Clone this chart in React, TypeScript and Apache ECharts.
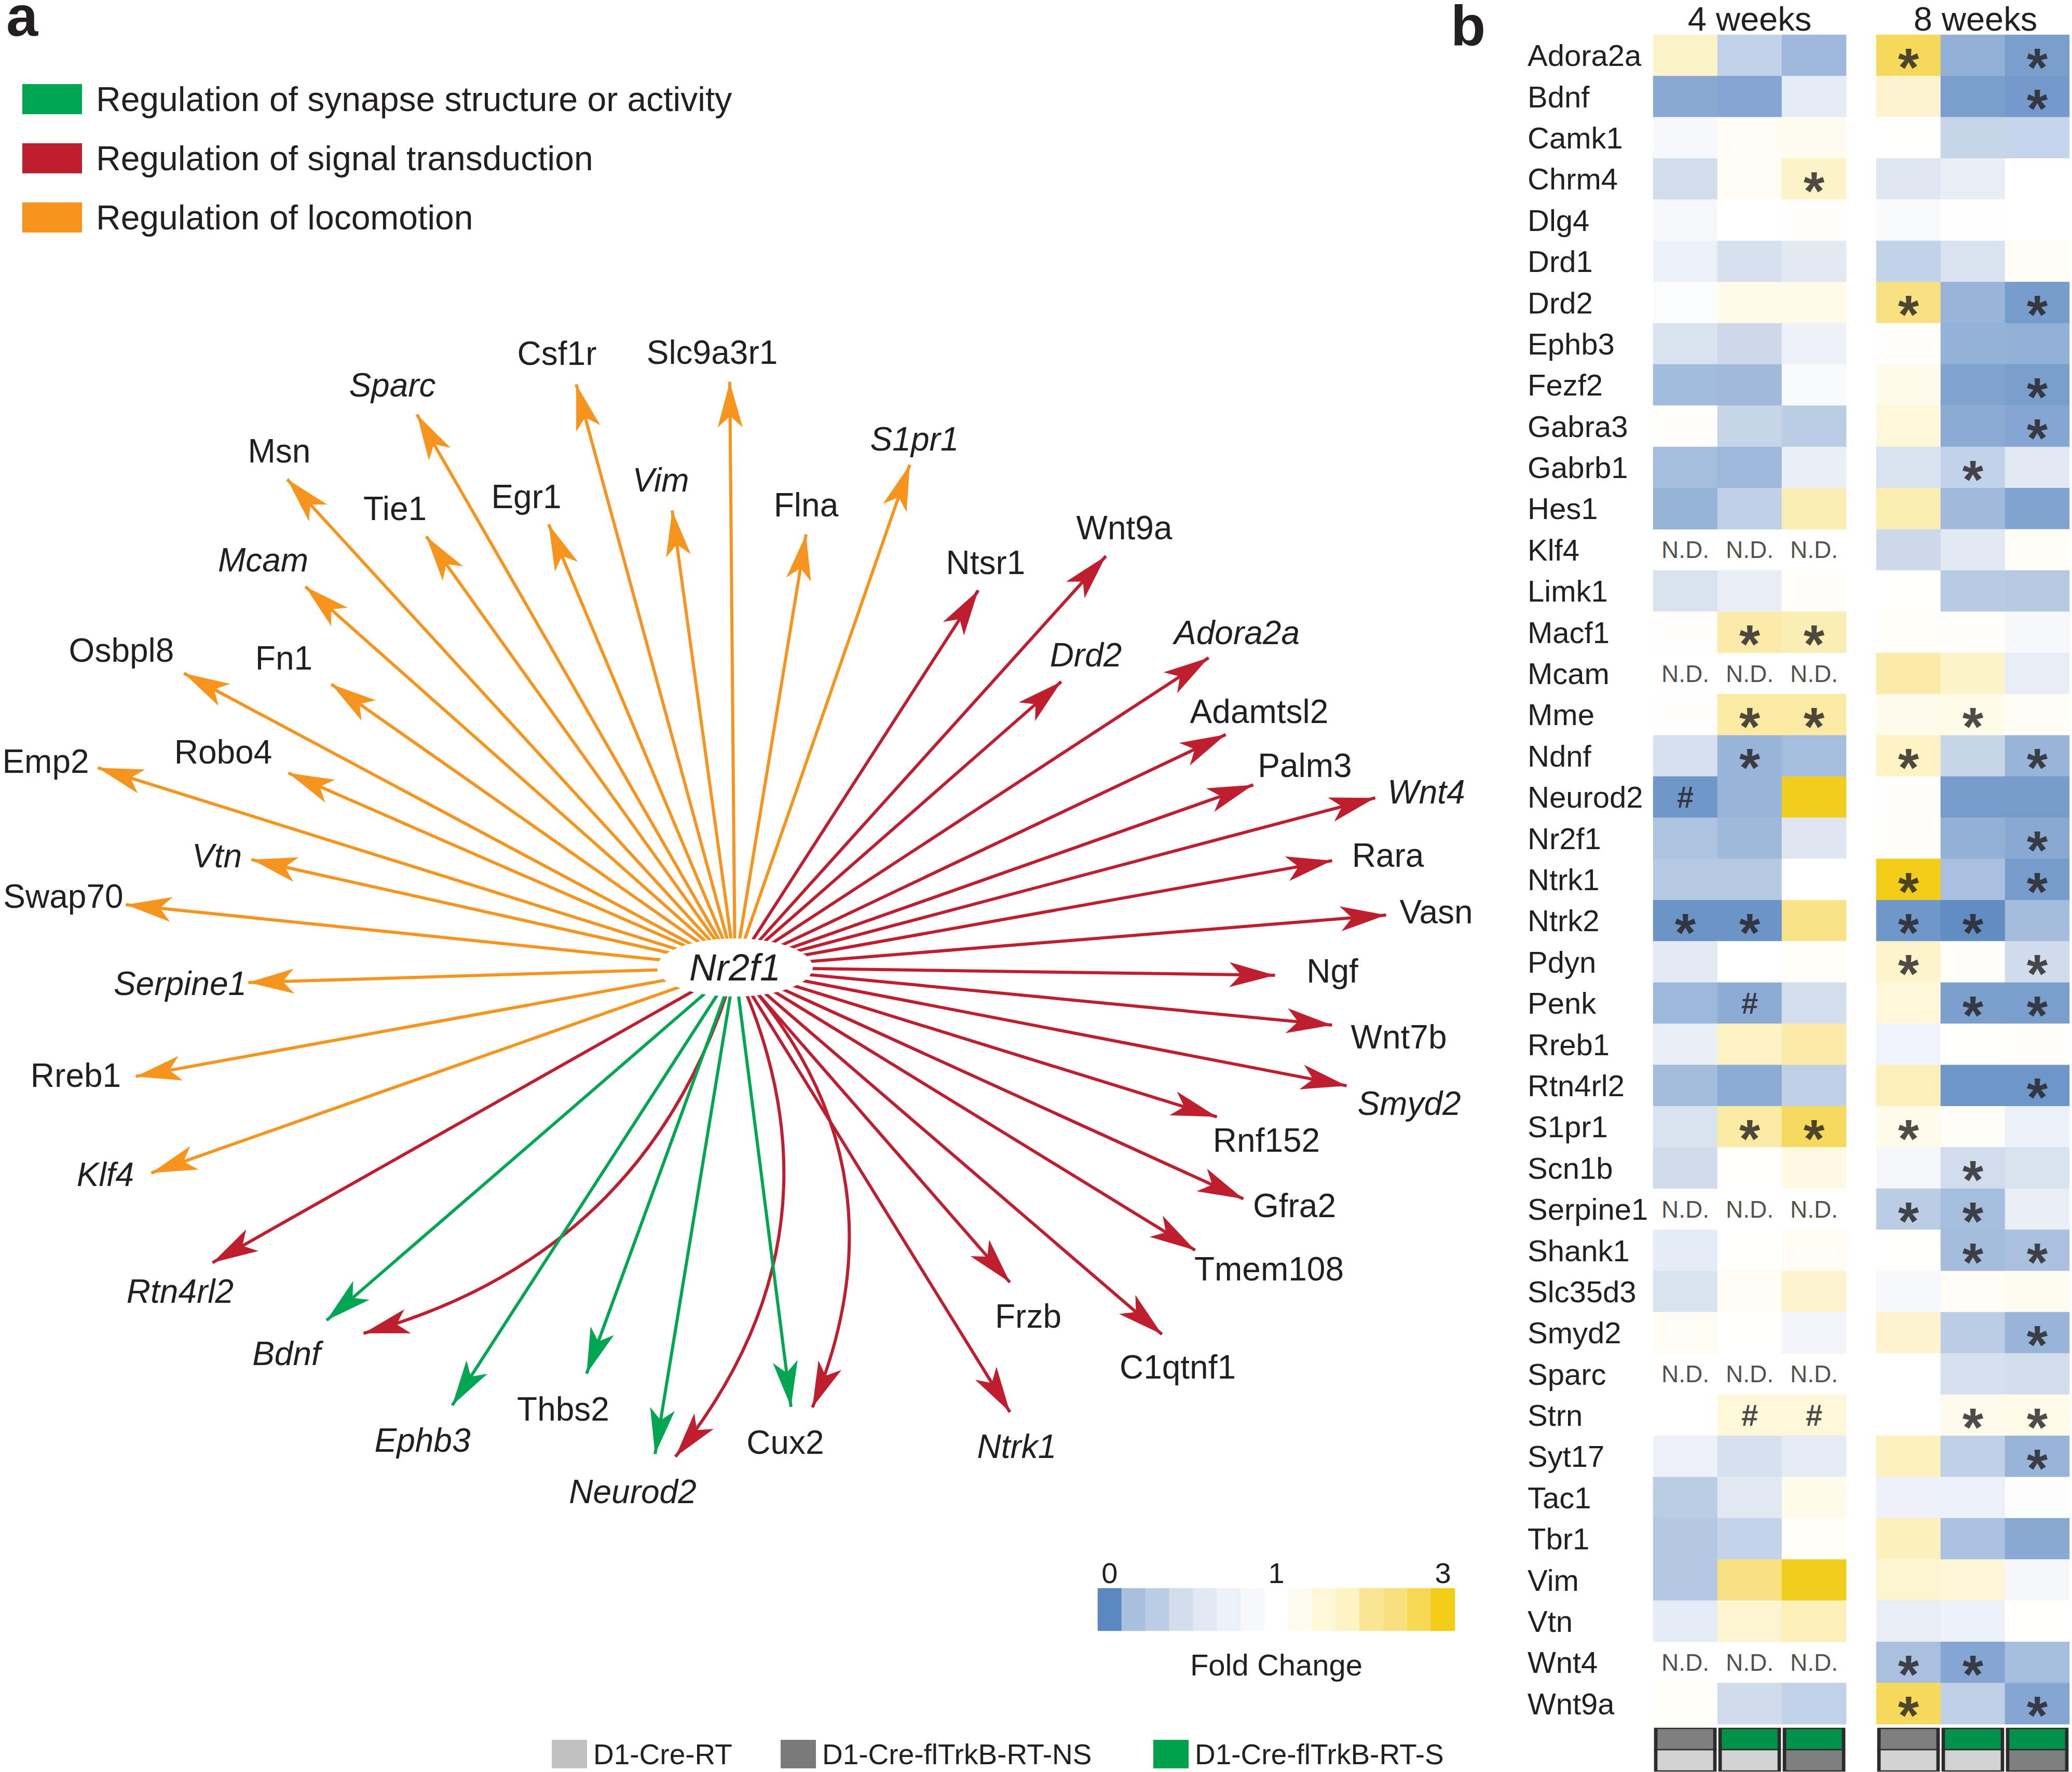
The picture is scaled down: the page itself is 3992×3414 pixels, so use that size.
import React, { useEffect, useRef } from 'react';
import * as echarts from 'echarts';

const W = 3992;
const H = 3414;
const FONT = '"Liberation Sans", Arial, Helvetica, sans-serif';
const INK = '#231F20';

// ---------------- Panel a: Nr2f1 network ----------------
const categories = [
  'Regulation of synapse structure or activity',
  'Regulation of signal transduction',
  'Regulation of locomotion',
];
const categoryColors = ['#00A651', '#BE1E2D', '#F7941D'];
const hubGene = 'Nr2f1';
const hubPosition = [1416, 1864];

// target gene, category index, arrow tip x, arrow tip y, curveness
const targets: [string, number, number, number, number][] = [
  ['Csf1r', 2, 1110, 740, 0],
  ['Slc9a3r1', 2, 1406, 735, 0],
  ['Sparc', 2, 803, 798, 0],
  ['Msn', 2, 553, 923, 0],
  ['Tie1', 2, 821, 1033, 0],
  ['Egr1', 2, 1057, 1010, 0],
  ['Vim', 2, 1295, 983, 0],
  ['Flna', 2, 1553, 1029, 0],
  ['S1pr1', 2, 1753, 895, 0],
  ['Mcam', 2, 588, 1130, 0],
  ['Osbpl8', 2, 354, 1297, 0],
  ['Fn1', 2, 638, 1318, 0],
  ['Emp2', 2, 188, 1479, 0],
  ['Robo4', 2, 555, 1489, 0],
  ['Vtn', 2, 484, 1656, 0],
  ['Swap70', 2, 242, 1743, 0],
  ['Serpine1', 2, 478, 1893, 0],
  ['Rreb1', 2, 261, 2074, 0],
  ['Klf4', 2, 291, 2260, 0],
  ['Ntsr1', 1, 1885, 1137, 0],
  ['Wnt9a', 1, 2131, 1071, 0],
  ['Drd2', 1, 2045, 1313, 0],
  ['Adora2a', 1, 2329, 1267, 0],
  ['Adamtsl2', 1, 2362, 1415, 0],
  ['Palm3', 1, 2415, 1512, 0],
  ['Wnt4', 1, 2650, 1537, 0],
  ['Rara', 1, 2567, 1658, 0],
  ['Vasn', 1, 2671, 1763, 0],
  ['Ngf', 1, 2457, 1879, 0],
  ['Wnt7b', 1, 2567, 1975, 0],
  ['Smyd2', 1, 2595, 2092, 0],
  ['Rnf152', 1, 2345, 2152, 0],
  ['Gfra2', 1, 2396, 2310, 0],
  ['Tmem108', 1, 2303, 2409, 0],
  ['Frzb', 1, 1946, 2471, 0],
  ['C1qtnf1', 1, 2239, 2571, 0],
  ['Ntrk1', 1, 1946, 2721, 0],
  ['Cux2', 1, 1565, 2712, 0.32],
  ['Neurod2', 1, 1301, 2807, 0.31],
  ['Bdnf', 1, 700, 2569, 0.28],
  ['Rtn4rl2', 1, 409, 2433, 0],
  ['Bdnf', 0, 629, 2544, 0],
  ['Ephb3', 0, 871, 2708, 0],
  ['Thbs2', 0, 1130, 2647, 0],
  ['Neurod2', 0, 1262, 2802, 0],
  ['Cux2', 0, 1524, 2711, 0],
];

// gene label centres
const geneLabels: [string, number, number][] = [
  ['Csf1r', 1073, 681], ['Slc9a3r1', 1372, 679], ['Sparc', 756, 742], ['Msn', 538, 869],
  ['Tie1', 761, 980], ['Egr1', 1014, 957], ['Vim', 1273, 925], ['Flna', 1553, 973],
  ['S1pr1', 1762, 846], ['Mcam', 507, 1079], ['Osbpl8', 234, 1253], ['Fn1', 547, 1268],
  ['Emp2', 88, 1467], ['Robo4', 430, 1449], ['Vtn', 418, 1649], ['Swap70', 122, 1727],
  ['Serpine1', 347, 1895], ['Rreb1', 146, 2072], ['Klf4', 203, 2263],
  ['Ntsr1', 1899, 1084], ['Wnt9a', 2166, 1017], ['Drd2', 2092, 1262], ['Adora2a', 2383, 1219],
  ['Adamtsl2', 2426, 1371], ['Palm3', 2514, 1475], ['Wnt4', 2748, 1526], ['Rara', 2674, 1648],
  ['Vasn', 2767, 1757], ['Ngf', 2567, 1871], ['Wnt7b', 2695, 1998], ['Smyd2', 2715, 2126],
  ['Rnf152', 2440, 2197], ['Gfra2', 2494, 2323], ['Tmem108', 2445, 2445], ['Frzb', 1981, 2536],
  ['C1qtnf1', 2269, 2634], ['Ntrk1', 1959, 2787], ['Rtn4rl2', 347, 2488], ['Bdnf', 552, 2608],
  ['Ephb3', 814, 2775], ['Thbs2', 1085, 2715], ['Neurod2', 1219, 2874], ['Cux2', 1513, 2779],
];
const italicGenes = ['Sparc', 'Vim', 'S1pr1', 'Mcam', 'Vtn', 'Serpine1', 'Klf4', 'Drd2', 'Adora2a',
  'Wnt4', 'Smyd2', 'Ntrk1', 'Rtn4rl2', 'Bdnf', 'Ephb3', 'Neurod2'];

// ---------------- Panel b: fold-change heatmap ----------------
const heatGenes = ['Adora2a', 'Bdnf', 'Camk1', 'Chrm4', 'Dlg4', 'Drd1', 'Drd2', 'Ephb3', 'Fezf2',
  'Gabra3', 'Gabrb1', 'Hes1', 'Klf4', 'Limk1', 'Macf1', 'Mcam', 'Mme', 'Ndnf', 'Neurod2', 'Nr2f1',
  'Ntrk1', 'Ntrk2', 'Pdyn', 'Penk', 'Rreb1', 'Rtn4rl2', 'S1pr1', 'Scn1b', 'Serpine1', 'Shank1',
  'Slc35d3', 'Smyd2', 'Sparc', 'Strn', 'Syt17', 'Tac1', 'Tbr1', 'Vim', 'Vtn', 'Wnt4', 'Wnt9a'];

// null = N.D.
const fold4w: (number | null)[][] = [
  [1.5, 0.55, 0.33], [0.22, 0.2, 0.8], [0.93, 1.12, 1.15], [0.65, 1.12, 1.5], [0.93, 1.0, 1.03],
  [0.85, 0.68, 0.77], [0.97, 1.2, 1.22], [0.7, 0.62, 0.86], [0.36, 0.35, 0.95], [1.04, 0.58, 0.5],
  [0.38, 0.33, 0.83], [0.29, 0.53, 1.7], [null, null, null], [0.7, 0.82, 1.05], [1.03, 1.8, 1.7],
  [null, null, null], [1.03, 1.85, 1.85], [0.68, 0.3, 0.38], [0.1, 0.3, 2.95], [0.42, 0.34, 0.74],
  [0.47, 0.47, 1.0], [0.08, 0.08, 2.1], [0.78, 1.0, 1.07], [0.33, 0.24, 0.67], [0.83, 1.55, 1.8],
  [0.37, 0.24, 0.53], [0.7, 1.85, 2.45], [0.64, 1.02, 1.28], [null, null, null], [0.8, 1.02, 1.12],
  [0.7, 1.12, 1.45], [1.12, 1.02, 0.9], [null, null, null], [1.0, 1.35, 1.35], [0.86, 0.68, 0.8],
  [0.5, 0.77, 1.2], [0.46, 0.56, 1.07], [0.46, 2.15, 2.95], [0.8, 1.42, 1.65], [null, null, null],
  [1.07, 0.64, 0.55],
];
const fold8w: (number | null)[][] = [
  [2.5, 0.27, 0.15], [1.45, 0.15, 0.12], [1.02, 0.58, 0.57], [0.75, 0.82, 1.0], [0.95, 0.99, 1.0],
  [0.55, 0.7, 1.1], [2.15, 0.3, 0.13], [1.03, 0.28, 0.27], [1.2, 0.18, 0.15], [1.35, 0.23, 0.2],
  [0.7, 0.55, 0.77], [1.75, 0.35, 0.18], [0.62, 0.77, 1.08], [1.02, 0.48, 0.47], [1.07, 1.05, 0.93],
  [1.8, 1.5, 0.82], [1.18, 1.22, 1.1], [1.55, 0.58, 0.3], [1.03, 0.13, 0.13], [1.04, 0.27, 0.22],
  [3.0, 0.4, 0.13], [0.1, 0.03, 0.37], [1.48, 1.04, 0.64], [1.35, 0.16, 0.15], [0.88, 1.01, 1.05],
  [1.65, 0.09, 0.09], [1.2, 1.08, 0.85], [0.92, 0.65, 0.7], [0.5, 0.38, 0.83], [1.01, 0.37, 0.4],
  [0.93, 1.1, 1.15], [1.45, 0.5, 0.3], [1.0, 0.68, 0.66], [1.0, 1.18, 1.22], [1.6, 0.53, 0.3],
  [0.86, 0.85, 0.98], [1.62, 0.41, 0.22], [1.42, 1.38, 0.92], [0.82, 0.85, 1.02], [0.4, 0.2, 0.38],
  [2.5, 0.53, 0.2],
];

// significance marks: gene, comparison column, mark
const marks4w: [string, number, string][] = [
  ['Chrm4', 2, '*'], ['Macf1', 1, '*'], ['Macf1', 2, '*'], ['Mme', 1, '*'], ['Mme', 2, '*'],
  ['Ndnf', 1, '*'], ['Neurod2', 0, '#'], ['Ntrk2', 0, '*'], ['Ntrk2', 1, '*'], ['Penk', 1, '#'],
  ['S1pr1', 1, '*'], ['S1pr1', 2, '*'], ['Strn', 1, '#'], ['Strn', 2, '#'],
];
const marks8w: [string, number, string][] = [
  ['Adora2a', 0, '*'], ['Adora2a', 2, '*'], ['Bdnf', 2, '*'], ['Drd2', 0, '*'], ['Drd2', 2, '*'],
  ['Fezf2', 2, '*'], ['Gabra3', 2, '*'], ['Gabrb1', 1, '*'], ['Mme', 1, '*'], ['Ndnf', 0, '*'],
  ['Ndnf', 2, '*'], ['Nr2f1', 2, '*'], ['Ntrk1', 0, '*'], ['Ntrk1', 2, '*'], ['Ntrk2', 0, '*'],
  ['Ntrk2', 1, '*'], ['Pdyn', 0, '*'], ['Pdyn', 2, '*'], ['Penk', 1, '*'], ['Penk', 2, '*'],
  ['Rtn4rl2', 2, '*'], ['S1pr1', 0, '*'], ['Scn1b', 1, '*'], ['Serpine1', 0, '*'], ['Serpine1', 1, '*'],
  ['Shank1', 1, '*'], ['Shank1', 2, '*'], ['Smyd2', 2, '*'], ['Strn', 1, '*'], ['Strn', 2, '*'],
  ['Syt17', 2, '*'], ['Wnt4', 0, '*'], ['Wnt4', 1, '*'], ['Wnt9a', 0, '*'], ['Wnt9a', 2, '*'],
];

const comparisonCols = ['c1', 'c2', 'c3'];
// genotype pair of each comparison (top, bottom)
const comparisons: [string, string][] = [['NS', 'RT'], ['S', 'RT'], ['S', 'NS']];
const genotypeFill: Record<string, string> = { RT: '#D3D3D3', NS: '#7F7F7F', S: '#00914A' };
const genotypeLegend: [string, string][] = [
  ['D1-Cre-RT', '#C1C1C1'], ['D1-Cre-flTrkB-RT-NS', '#7A7A7A'], ['D1-Cre-flTrkB-RT-S', '#00A14B'],
];

const scaleStops = ['#5B88C0', '#8FAED6', '#BBCDE5', '#E0E7F2', '#FFFFFF', '#FEFAE6', '#FDF3C9',
  '#FBEDB0', '#F9E593', '#F8DF77', '#F6D95A', '#F4D23A', '#F2CC17'];
const colorbarSteps = [0, 0.39, 0.5, 0.66, 0.76, 0.85, 0.93, 1.0, 1.15, 1.37, 1.56, 2.0, 2.19, 2.55, 3.0];
const colorbarTickLabels = ['0', '', '', '', '', '', '', '1', '', '', '', '', '', '', '3'];

const CLEAR = 'rgba(0,0,0,0)';

function buildOption(): any {
  const tipName = (g: string, c: number) => `${g}@${c}`;
  const nodes: any[] = [
    { name: hubGene, value: hubPosition, symbolSize: 1, itemStyle: { color: CLEAR }, label: { show: false } },
    ...targets.map(([g, c, x, y]) => ({
      name: tipName(g, c), value: [x, y], category: c, symbolSize: 1,
      itemStyle: { color: CLEAR }, label: { show: false },
    })),
    ...geneLabels.map(([g, x, y]) => ({
      name: `label:${g}`, value: [x, y], symbolSize: 1, itemStyle: { color: CLEAR },
      label: {
        show: true, position: 'inside', formatter: g,
        fontStyle: italicGenes.includes(g) ? 'italic' : 'normal',
      },
    })),
  ];
  const links = targets.map(([g, c, , , curv]) => ({
    source: hubGene, target: tipName(g, c),
    lineStyle: { color: categoryColors[c], curveness: curv },
  }));

  const heatData = (fold: (number | null)[][]) => {
    const out: number[][] = [];
    fold.forEach((row, i) => row.forEach((v, j) => { if (v != null) out.push([j, i, v]); }));
    return out;
  };
  const markLabel = (m: string) => {
    if (m === '*') return { fontSize: 104, fontWeight: 'bold', offset: [0, 23] };
    if (m === '#') return { fontSize: 58, fontWeight: 'bold' };
    return { fontSize: 46 };
  };
  const annotData = (fold: (number | null)[][], marks: [string, number, string][]) => {
    const items: any[] = [];
    fold.forEach((row, i) => row.forEach((v, j) => {
      if (v == null) items.push({ value: [j, i], label: { formatter: 'N.D.', ...markLabel('N.D.') } });
    }));
    marks.forEach(([g, j, m]) => items.push({ value: [j, heatGenes.indexOf(g)], label: { formatter: m, ...markLabel(m) } }));
    return items;
  };
  const genoData = comparisons.flatMap(([a, b], j) => [
    { value: [j, 0], itemStyle: { color: genotypeFill[a] } },
    { value: [j, 1], itemStyle: { color: genotypeFill[b] } },
  ]);

  const hiddenCat = (gridIndex: number, data: string[], inverse = false) => ({
    type: 'category', gridIndex, data, inverse, show: false,
  });

  const annotSeries = (idx: number, fold: any, marks: any) => ({
    type: 'scatter', xAxisIndex: idx, yAxisIndex: idx, silent: true, z: 5,
    symbolSize: 1, itemStyle: { color: CLEAR },
    label: { show: true, position: 'inside', color: INK, fontFamily: FONT, align: 'center', verticalAlign: 'middle' },
    data: annotData(fold, marks),
  });
  const genoSeries = (idx: number) => ({
    type: 'scatter', xAxisIndex: idx, yAxisIndex: idx, silent: true,
    symbol: 'rect', symbolSize: [114, 41],
    itemStyle: { borderColor: '#2B2B2B', borderWidth: 4, opacity: 1 },
    data: genoData,
  });

  const legendBottom: any[] = [];
  const legendX = [1063, 1504, 2222];
  genotypeLegend.forEach(([name, color], i) => {
    legendBottom.push({ type: 'rect', left: legendX[i], top: 3352, shape: { width: 68, height: 55 }, style: { fill: color } });
    legendBottom.push({ type: 'text', x: legendX[i] + 80, y: 3380, style: { text: name, fontSize: 55, fontFamily: FONT, fill: INK, textAlign: 'left', textVerticalAlign: 'middle' } });
  });

  return {
    animation: false,
    backgroundColor: '#fff',
    legend: {
      data: categories.map((n, i) => ({ name: n, itemStyle: { color: categoryColors[i] } })),
      orient: 'vertical', left: 38, top: 153, itemWidth: 115, itemHeight: 58, itemGap: 48,
      icon: 'rect', selectedMode: false,
      textStyle: { fontSize: 66, lineHeight: 58, color: INK, fontFamily: FONT, padding: [0, 0, 0, 22] },
    },
    grid: [
      { left: 0, top: 0, width: W, height: H },
      { left: 3185, top: 67, width: 372, height: 3255 },
      { left: 3615, top: 67, width: 372, height: 3255 },
      { left: 3185, top: 3330, width: 372, height: 82 },
      { left: 3615, top: 3330, width: 372, height: 82 },
      { left: 2115, top: 3060, width: 688, height: 82 },
    ],
    xAxis: [
      { type: 'value', gridIndex: 0, min: 0, max: W, show: false },
      hiddenCat(1, comparisonCols),
      hiddenCat(2, comparisonCols),
      hiddenCat(3, comparisonCols),
      hiddenCat(4, comparisonCols),
      {
        type: 'category', gridIndex: 5, position: 'top', data: colorbarSteps.map((_, i) => String(i)),
        axisLine: { show: false }, axisTick: { show: false },
        axisLabel: {
          interval: 0, margin: 2, fontSize: 56, color: INK, fontFamily: FONT,
          formatter: (_v: string, i: number) => colorbarTickLabels[i] || '',
        },
      },
    ],
    yAxis: [
      { type: 'value', gridIndex: 0, min: 0, max: H, inverse: true, show: false },
      {
        type: 'category', gridIndex: 1, data: heatGenes, inverse: true,
        axisLine: { show: false }, axisTick: { show: false },
        axisLabel: { interval: 0, margin: 242, align: 'left', fontSize: 58, color: INK, fontFamily: FONT },
      },
      hiddenCat(2, heatGenes, true),
      hiddenCat(3, ['top', 'bottom'], true),
      hiddenCat(4, ['top', 'bottom'], true),
      hiddenCat(5, ['bar']),
    ],
    visualMap: {
      type: 'continuous', show: false, min: 0, max: 3, dimension: 2,
      seriesIndex: [2, 3, 8], inRange: { color: scaleStops },
    },
    series: [
      {
        type: 'graph', coordinateSystem: 'cartesian2d', xAxisIndex: 0, yAxisIndex: 0,
        silent: true, z: 3,
        categories: categories.map((n, i) => ({ name: n, itemStyle: { color: categoryColors[i] } })),
        data: nodes, links,
        edgeSymbol: ['none', 'arrow'], edgeSymbolSize: [0, [36, 88]],
        lineStyle: { width: 6, opacity: 1 },
        label: { color: INK, fontSize: 64, fontFamily: FONT, align: 'center', verticalAlign: 'middle' },
        emphasis: { disabled: true },
      },
      {
        type: 'scatter', xAxisIndex: 0, yAxisIndex: 0, z: 10, silent: true,
        data: [{ value: hubPosition, name: hubGene }],
        symbol: 'circle', symbolSize: [300, 112], itemStyle: { color: '#fff', opacity: 1 },
        label: { show: true, position: 'inside', formatter: hubGene, fontStyle: 'italic', fontSize: 72, color: INK, fontFamily: FONT },
      },
      { type: 'heatmap', xAxisIndex: 1, yAxisIndex: 1, silent: true, data: heatData(fold4w) },
      { type: 'heatmap', xAxisIndex: 2, yAxisIndex: 2, silent: true, data: heatData(fold8w) },
      annotSeries(1, fold4w, marks4w),
      annotSeries(2, fold8w, marks8w),
      genoSeries(3),
      genoSeries(4),
      {
        type: 'heatmap', xAxisIndex: 5, yAxisIndex: 5, silent: true,
        data: colorbarSteps.map((v, i) => [i, 0, v]),
      },
    ],
    graphic: [
      { type: 'text', x: 12, y: 30, style: { text: 'a', fontSize: 110, fontWeight: 'bold', fontFamily: FONT, fill: INK, textVerticalAlign: 'middle' } },
      { type: 'text', x: 2795, y: 48, style: { text: 'b', fontSize: 110, fontWeight: 'bold', fontFamily: FONT, fill: INK, textVerticalAlign: 'middle' } },
      { type: 'text', x: 3371, y: 36, style: { text: '4 weeks', fontSize: 65, fontFamily: FONT, fill: INK, textAlign: 'center', textVerticalAlign: 'middle' } },
      { type: 'text', x: 3806, y: 36, style: { text: '8 weeks', fontSize: 65, fontFamily: FONT, fill: INK, textAlign: 'center', textVerticalAlign: 'middle' } },
      { type: 'text', x: 2459, y: 3207, style: { text: 'Fold Change', fontSize: 58, fontFamily: FONT, fill: INK, textAlign: 'center', textVerticalAlign: 'middle' } },
      ...legendBottom,
    ],
  };
}

export default function App() {
  const ref = useRef<HTMLDivElement>(null);
  useEffect(() => {
    if (!ref.current) return;
    const chart = echarts.init(ref.current, null, { renderer: 'svg' });
    chart.setOption(buildOption());
    return () => chart.dispose();
  }, []);
  return (
    <div
      ref={ref}
      style={{ position: 'absolute', left: 0, top: 0, width: W, height: H, background: '#fff' }}
    />
  );
}
